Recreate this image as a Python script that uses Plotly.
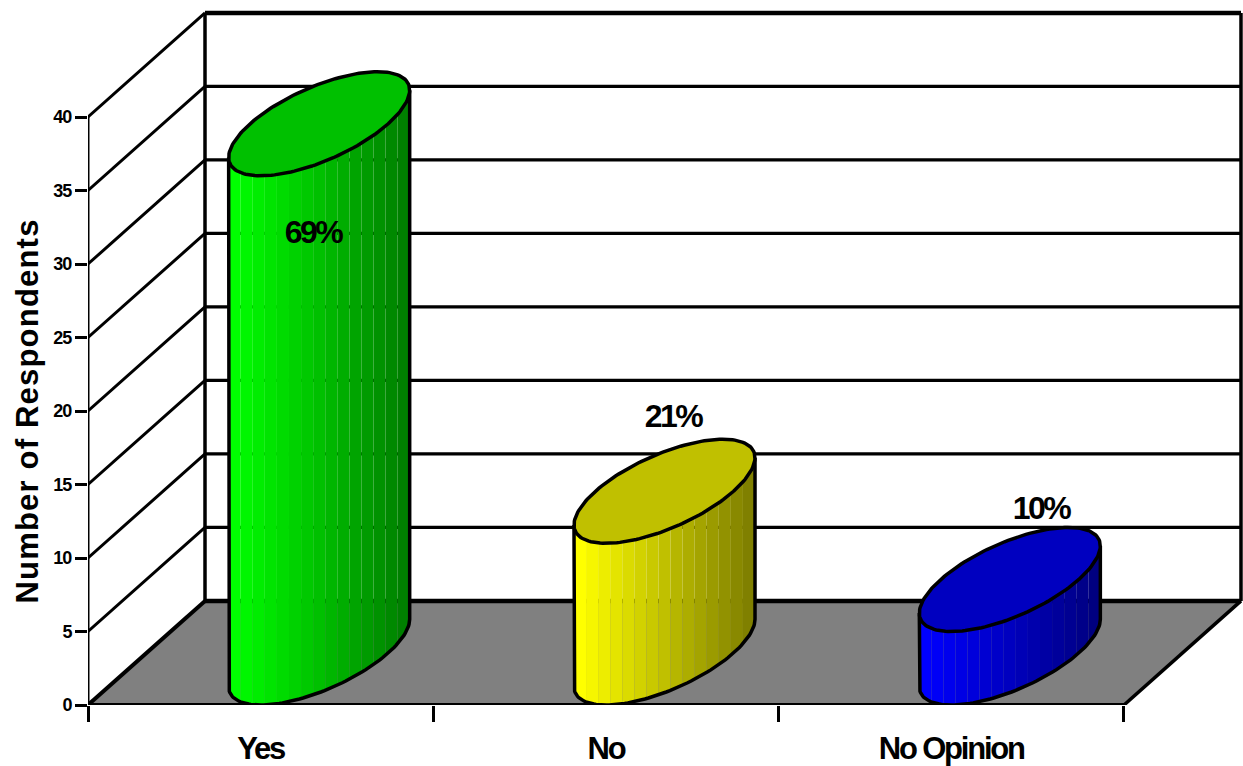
import numpy as np
import plotly.graph_objects as go

# ---------- data ----------
CATEGORIES = ["Yes", "No", "No Opinion"]
RESPONDENTS = [36, 11, 5]
PERCENT_LABELS = ["69%", "21%", "10%"]
Y_TICKS = [0, 5, 10, 15, 20, 25, 30, 35, 40]
Y_TITLE = "Number of Respondents"

# ---------- style ----------
LIGHT = [(0, 255, 0), (255, 255, 0), (0, 0, 255)]
DARK = [(0, 128, 0), (128, 128, 0), (0, 0, 128)]
TOP = ["rgb(0,192,0)", "rgb(192,192,0)", "rgb(0,0,192)"]
FLOOR = "rgb(128,128,128)"
FONT = "Liberation Sans"

# oblique projection of the chart depth, in axis units
DEPTH_X = 117 / 345.33
DEPTH_Y = 7.08
HALF_W = 0.2
N_STRIPS = 15
# label anchors: (category position, axis value)
LABEL_X = [0.652, 1.695, 2.760]
LABEL_Y = [32.15, 19.65, 13.4]

W, H = 1243, 766
ML, MB = 88, 61
X_RANGE = [0, (W - ML) / 345.33]
Y_RANGE = [0, (H - MB) / 14.7]


def line(fig, xs, ys, width, color="black"):
    fig.add_trace(go.Scatter(x=list(xs), y=list(ys), mode="lines", cliponaxis=False,
                             line=dict(color=color, width=width), hoverinfo="skip", showlegend=False))


def poly(fig, xs, ys, color, width=0.0, lcolor="black"):
    fig.add_trace(go.Scatter(x=list(xs), y=list(ys), mode="lines", fill="toself", fillcolor=color,
                             cliponaxis=False, line=dict(color=lcolor, width=width),
                             hoverinfo="skip", showlegend=False))


def ellipse(pos, value, t):
    """Point of the bar's circular cross-section, projected obliquely."""
    x = pos + 0.5 * DEPTH_X + HALF_W * np.cos(t) + 0.5 * DEPTH_X * np.sin(t)
    y = value + 0.5 * DEPTH_Y + 0.5 * DEPTH_Y * np.sin(t)
    return x, y


fig = go.Figure()

n_cat = len(CATEGORIES)
top_v = Y_TICKS[-1]

# walls: left wall slanted lines and back wall horizontal lines
for v in Y_TICKS[1:]:
    width = 4.5 if v == top_v else 3.2
    line(fig, [DEPTH_X, n_cat + DEPTH_X], [v + DEPTH_Y, v + DEPTH_Y], width)
    line(fig, [0, DEPTH_X], [v, v + DEPTH_Y], 3)
line(fig, [0, 0], [0, top_v], 3)
line(fig, [DEPTH_X, DEPTH_X], [DEPTH_Y, top_v + DEPTH_Y], 3.5)
line(fig, [n_cat + DEPTH_X, n_cat + DEPTH_X], [DEPTH_Y, top_v + DEPTH_Y], 3.5)

# floor
poly(fig, [0, n_cat, n_cat + DEPTH_X, DEPTH_X, 0], [0, 0, DEPTH_Y, DEPTH_Y, 0], FLOOR)
line(fig, [DEPTH_X, n_cat + DEPTH_X], [DEPTH_Y, DEPTH_Y], 4.5)
line(fig, [n_cat, n_cat + DEPTH_X], [0, DEPTH_Y], 3.5)
line(fig, [0, DEPTH_X], [0, DEPTH_Y], 4)
line(fig, [0, n_cat], [0, 0], 4)

# cylinders
t0 = np.arctan2(0.5 * DEPTH_X, HALF_W)
for i, v in enumerate(RESPONDENTS):
    pos = i + 0.5
    edges = np.linspace(-1, 1, N_STRIPS + 1)
    u_edges = -np.arccos(edges)  # from left silhouette (-pi) to right (0)
    for s in range(N_STRIPS):
        frac = s / (N_STRIPS - 1)
        col = tuple(int(round(a + (b - a) * frac)) for a, b in zip(LIGHT[i], DARK[i]))
        ts = t0 + np.linspace(u_edges[s], u_edges[s + 1], 8)
        xb, yb = ellipse(pos, 0, ts)
        xt, yt = ellipse(pos, v, ts[::-1])
        poly(fig, np.r_[xb, xt, xb[0]], np.r_[yb, yt, yb[0]], "rgb(%d,%d,%d)" % col)
    # outline of the body
    ts = t0 + np.linspace(-np.pi, 0, 80)
    xb, yb = ellipse(pos, 0, ts)
    xr, yr = ellipse(pos, v, ts[-1:])
    xl, yl = ellipse(pos, v, ts[:1])
    line(fig, np.r_[xl, xb, xr], np.r_[yl, yb, yr], 3.5)
    # top
    ts = np.linspace(0, 2 * np.pi, 160)
    xt, yt = ellipse(pos, v, ts)
    poly(fig, xt, yt, TOP[i], width=3.5)

# percent labels
annotations = [
    dict(x=LABEL_X[i], y=LABEL_Y[i], xref="x", yref="y", text=PERCENT_LABELS[i], showarrow=False,
         font=dict(family=FONT, size=32, color="black", weight="bold"), xanchor="center", yanchor="middle")
    for i in range(n_cat)
]
annotations.append(
    dict(x=(27 - ML) / (W - ML), y=(H - MB - 411) / (H - MB), xref="paper", yref="paper", text=Y_TITLE,
         showarrow=False, textangle=-90,
         font=dict(family=FONT, size=31, color="black", weight="bold"), xanchor="center", yanchor="middle")
)

fig.update_layout(
    width=W, height=H,
    margin=dict(l=ML, r=0, t=0, b=MB, pad=0),
    paper_bgcolor="white", plot_bgcolor="white",
    showlegend=False,
    xaxis=dict(range=X_RANGE, showgrid=False, zeroline=False, showline=False,
               tickmode="array", tickvals=[k + 0.5 for k in range(n_cat)], ticktext=CATEGORIES,
               ticks="", ticklabelstandoff=22,
               tickfont=dict(family=FONT, size=31, color="black", weight="bold"),
               minor=dict(tickmode="array", tickvals=list(range(n_cat + 1)), ticks="outside",
                          ticklen=16, tickwidth=3, tickcolor="black", showgrid=False)),
    yaxis=dict(range=Y_RANGE, showgrid=False, zeroline=False, showline=False,
               tickmode="array", tickvals=Y_TICKS, ticks="outside", ticklen=12, tickwidth=3,
               tickcolor="black",
               tickfont=dict(family=FONT, size=18, color="black", weight="bold")),
    annotations=annotations,
)

POST = """
document.body.style.margin = '0';
var css = document.createElement('style');
css.textContent = '.xtick text {letter-spacing:-2.2px} .annotation-text {letter-spacing:-2.5px}'
  + ' .ytick text {letter-spacing:-1px}'
  + ' .annotation:last-of-type .annotation-text {letter-spacing:1.2px}';
document.head.appendChild(css);
"""
fig.write_html("out.html", post_script=POST, config={"displayModeBar": False})
